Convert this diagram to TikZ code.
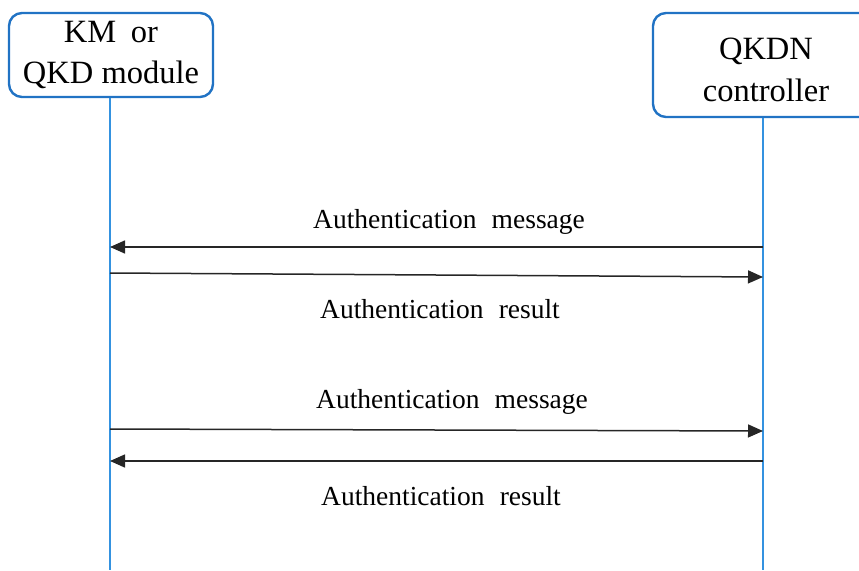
\documentclass[tikz,border=0pt]{standalone}
\usepackage{fontspec}
\setmainfont{Liberation Serif}
\usetikzlibrary{arrows.meta}
\definecolor{boxblue}{RGB}{33,115,196}
\definecolor{lifeblue}{RGB}{52,146,224}

\begin{document}
\begin{tikzpicture}[x=1pt,y=-1pt,
  actor/.style={draw=boxblue, line width=2.4pt, rounded corners=13pt,
    align=center, inner sep=0pt, font=\fontsize{32.5}{41}\selectfont},
  lifeline/.style={draw=lifeblue, line width=1.4pt},
  msg/.style={draw=black!85, line width=1.5pt,
    -{Triangle[length=15pt,width=13pt]}},
  lbl/.style={anchor=base, inner sep=0pt, font=\fontsize{27.5}{33}\selectfont}]
\useasboundingbox (0,0) rectangle (859,570);
\clip (0,0) rectangle (859,570);

% participants
\node[actor, minimum width=204pt, minimum height=84pt] (km) at (111,55)
  {KM\hspace{0.45em}or\\QKD module};
\node[actor, minimum width=226pt, minimum height=104pt,
      font=\fontsize{32.5}{42}\selectfont] (ctl) at (766,65)
  {\rule{0pt}{32pt}QKDN\\controller};

% lifelines
\coordinate (kmB) at (110,570);
\coordinate (ctlB) at (763,570);
\draw[lifeline] (kmB |- km.south) -- (kmB);
\draw[lifeline] (ctlB |- ctl.south) -- (ctlB);

% message end points on the lifelines
\coordinate (k1) at (110,247); \coordinate (c1) at (763,247);
\coordinate (k2) at (110,273); \coordinate (c2) at (763,277);
\coordinate (k3) at (110,429); \coordinate (c3) at (763,431);
\coordinate (k4) at (110,461); \coordinate (c4) at (763,461);

% messages
\draw[msg] (c1) -- (k1);
\draw[msg] (k2) -- (c2);
\draw[msg] (k3) -- (c3);
\draw[msg] (c4) -- (k4);

% labels
\node[lbl] (m1) at (449,228) {Authentication\hspace{0.55em}message};
\node[lbl] (r1) at (440,318) {Authentication\hspace{0.55em}result};
\node[lbl] (m2) at (452,408) {Authentication\hspace{0.55em}message};
\node[lbl] (r2) at (441,505) {Authentication\hspace{0.55em}result};
\end{tikzpicture}
\end{document}
